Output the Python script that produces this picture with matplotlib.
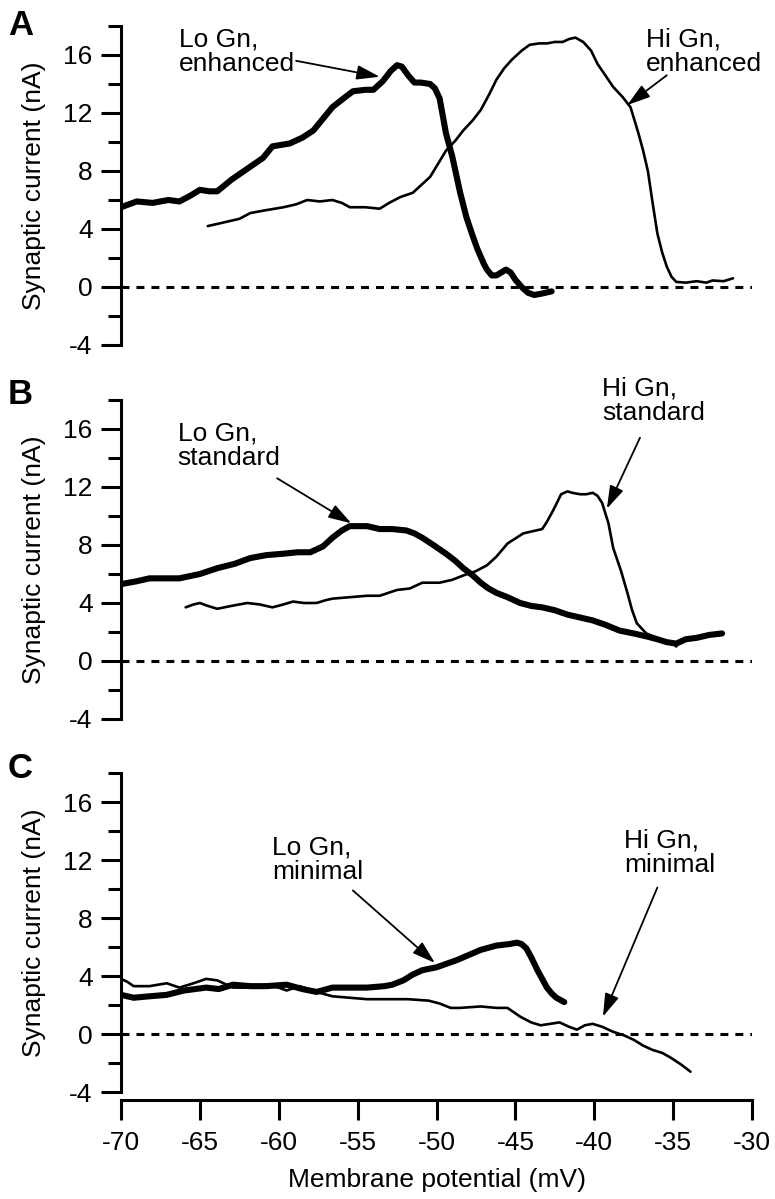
import matplotlib
matplotlib.use("Agg")
import matplotlib.pyplot as plt
from matplotlib.ticker import MultipleLocator

plt.rcParams['font.family'] = ['Liberation Sans', 'DejaVu Sans']

# ---------------- data (membrane potential mV, synaptic current nA) -------------
# Panel A
a_lo_x = [-70.0, -69.0, -68.0, -67.0, -66.3, -65.6, -65.0, -64.4, -63.9, -63.0, -61.8,
          -61.0, -60.4, -59.3, -58.5, -57.8, -57.2, -56.6, -55.9, -55.3, -54.5, -54.0,
          -53.4, -52.9, -52.5, -52.2, -51.8, -51.4, -51.0, -50.4, -50.1, -49.8, -49.4,
          -49.0, -48.5, -48.1, -47.7, -47.4, -47.0, -46.8, -46.5, -46.2, -45.9, -45.6,
          -45.3, -45.0, -44.6, -44.2, -43.8, -43.3, -42.7]
a_lo_y = [5.5, 5.9, 5.8, 6.0, 5.9, 6.3, 6.7, 6.6, 6.6, 7.4, 8.3,
          8.9, 9.7, 9.9, 10.3, 10.8, 11.6, 12.4, 13.0, 13.5, 13.6, 13.6,
          14.2, 14.9, 15.3, 15.2, 14.6, 14.1, 14.1, 14.0, 13.7, 13.0, 10.6,
          9.0, 6.5, 4.8, 3.5, 2.6, 1.6, 1.2, 0.8, 0.8, 1.0, 1.2,
          1.0, 0.5, 0.0, -0.4, -0.55, -0.45, -0.3]
a_hi_x = [-64.5, -63.3, -62.5, -61.8, -60.8, -59.7, -58.9, -58.2, -57.4, -56.6, -56.0,
          -55.5, -54.5, -53.6, -53.0, -52.3, -51.5, -51.0, -50.4, -49.9, -49.4, -48.8,
          -48.3, -47.7, -47.2, -46.7, -46.2, -45.7, -45.2, -44.6, -44.1, -43.5, -43.0,
          -42.5, -42.0, -41.6, -41.2, -40.7, -40.2, -39.8, -39.3, -38.8, -38.2, -37.7,
          -37.2, -36.9, -36.6, -36.3, -36.0, -35.7, -35.4, -35.1, -34.8, -34.2, -33.5,
          -32.9, -32.5, -31.8, -31.2]
a_hi_y = [4.2, 4.5, 4.7, 5.1, 5.3, 5.5, 5.7, 6.0, 5.9, 6.0, 5.8,
          5.5, 5.5, 5.4, 5.8, 6.2, 6.5, 7.0, 7.6, 8.5, 9.4, 10.1,
          10.8, 11.5, 12.2, 13.2, 14.3, 15.1, 15.7, 16.3, 16.7, 16.8, 16.8,
          16.9, 16.9, 17.1, 17.2, 16.9, 16.3, 15.4, 14.6, 13.8, 13.1, 12.4,
          10.6, 9.4, 8.0, 5.8, 3.7, 2.4, 1.4, 0.7, 0.35, 0.3, 0.4,
          0.3, 0.45, 0.4, 0.6]

# Panel B
b_lo_x = [-70.0, -69.0, -68.2, -67.2, -66.3, -65.0, -63.9, -62.8, -61.8, -60.8, -59.7,
          -58.8, -58.0, -57.2, -56.6, -56.0, -55.5, -54.9, -54.4, -53.6, -52.8, -51.9,
          -51.4, -50.9, -50.2, -49.4, -48.8, -48.3, -47.7, -47.2, -46.7, -46.2, -45.5,
          -44.7, -44.0, -43.3, -42.5, -41.7, -40.9, -40.1, -39.3, -38.4, -37.5, -36.7,
          -36.0, -35.4, -34.8, -34.2, -33.5, -32.7, -31.9]
b_lo_y = [5.3, 5.5, 5.7, 5.7, 5.7, 6.0, 6.4, 6.7, 7.1, 7.3, 7.4,
          7.5, 7.5, 7.9, 8.5, 9.0, 9.3, 9.3, 9.3, 9.1, 9.1, 9.0,
          8.8, 8.5, 8.0, 7.4, 6.9, 6.4, 5.9, 5.4, 5.0, 4.7, 4.4,
          4.0, 3.8, 3.7, 3.5, 3.2, 3.0, 2.8, 2.5, 2.1, 1.9, 1.7,
          1.5, 1.3, 1.2, 1.5, 1.6, 1.8, 1.9]
b_hi_x = [-65.9, -65.4, -65.0, -64.5, -63.9, -63.0, -62.0, -61.2, -60.4, -59.7, -59.1,
          -58.4, -57.6, -57.0, -56.6, -55.5, -54.4, -53.6, -52.5, -51.7, -50.9, -49.8,
          -49.0, -48.3, -47.5, -46.8, -46.2, -45.5, -44.5, -43.3, -43.0, -42.6, -42.1,
          -41.7, -41.4, -40.9, -40.5, -40.1, -39.8, -39.5, -39.1, -38.8, -38.3, -37.9,
          -37.6, -37.3, -36.7, -35.8, -35.0, -34.8]
b_hi_y = [3.7, 3.9, 4.0, 3.8, 3.6, 3.8, 4.0, 3.9, 3.7, 3.9, 4.1,
          4.0, 4.0, 4.2, 4.3, 4.4, 4.5, 4.5, 4.9, 5.0, 5.4, 5.4,
          5.6, 5.9, 6.2, 6.6, 7.2, 8.1, 8.8, 9.1, 9.6, 10.4, 11.5,
          11.7, 11.6, 11.5, 11.5, 11.6, 11.4, 10.9, 9.5, 7.8, 6.2, 4.7,
          3.5, 2.6, 1.9, 1.5, 1.2, 1.0]

# Panel C
c_lo_x = [-70.0, -69.2, -68.2, -67.1, -66.0, -64.6, -63.8, -62.9, -61.8, -60.8, -59.5,
          -58.5, -57.6, -56.6, -55.5, -54.4, -53.3, -52.8, -52.1, -51.5, -50.9, -50.0,
          -48.7, -47.2, -46.2, -45.4, -44.9, -44.6, -44.3, -44.0, -43.6, -43.3, -43.0,
          -42.7, -42.4, -41.9]
c_lo_y = [2.7, 2.5, 2.6, 2.7, 3.0, 3.2, 3.1, 3.4, 3.3, 3.3, 3.4,
          3.1, 2.9, 3.2, 3.2, 3.2, 3.3, 3.4, 3.7, 4.1, 4.4, 4.6,
          5.1, 5.8, 6.1, 6.2, 6.3, 6.2, 5.9, 5.3, 4.4, 3.8, 3.2,
          2.8, 2.5, 2.2]
c_hi_x = [-70.0, -69.6, -69.2, -68.2, -67.1, -66.3, -65.4, -64.6, -63.9, -62.9, -61.8,
          -60.8, -60.0, -59.5, -58.7, -57.6, -56.6, -55.5, -54.4, -53.0, -51.8, -50.5,
          -49.8, -49.1, -48.5, -47.2, -46.2, -45.5, -44.7, -44.0, -43.4, -42.8, -42.2,
          -41.6, -41.1, -40.6, -40.1, -39.5, -38.8, -38.1, -37.5, -36.9, -36.3, -35.7,
          -35.2, -34.5, -33.9]
c_hi_y = [3.8, 3.6, 3.3, 3.3, 3.5, 3.2, 3.5, 3.8, 3.7, 3.2, 3.2,
          3.4, 3.2, 3.0, 3.3, 2.9, 2.6, 2.5, 2.4, 2.4, 2.4, 2.3,
          2.1, 1.8, 1.8, 1.9, 1.8, 1.8, 1.2, 0.8, 0.6, 0.7, 0.8,
          0.5, 0.3, 0.6, 0.7, 0.5, 0.15, -0.1, -0.4, -0.8, -1.1, -1.3,
          -1.6, -2.1, -2.6]

y_ticks = [-4, 0, 4, 8, 12, 16]
x_ticks = [-70, -65, -60, -55, -50, -45, -40, -35, -30]
panel_letters = ["A", "B", "C"]
lo_labels = ["Lo Gn,\nenhanced", "Lo Gn,\nstandard", "Lo Gn,\nminimal"]
hi_labels = ["Hi Gn,\nenhanced", "Hi Gn,\nstandard", "Hi Gn,\nminimal"]

series = [(a_lo_x, a_lo_y, a_hi_x, a_hi_y),
          (b_lo_x, b_lo_y, b_hi_x, b_hi_y),
          (c_lo_x, c_lo_y, c_hi_x, c_hi_y)]

# annotation layout (text top-left, arrow tail, arrow tip) in data coords
lo_ann = [((-66.3, 17.9), (-58.9, 15.6), (-53.6, 14.5)),
          ((-66.4, 16.5), (-60.1, 12.6), (-55.4, 9.5)),
          ((-60.4, 13.7), (-55.3, 9.9), (-50.1, 4.9))]
hi_ann = [((-36.7, 17.9), (-35.4, 14.6), (-37.9, 12.55)),
          ((-39.5, 19.6), (-37.1, 15.4), (-39.2, 10.5)),
          ((-38.1, 14.2), (-36.0, 10.1), (-39.45, 1.2))]

# ---------------- figure -------------------------------------------------------
W, H = 775, 1199
fig = plt.figure(figsize=(W / 100, H / 100), dpi=100)
left_px, right_px = 121, 752
zero_px = [287, 661, 1034]
unit_px = 14.5
letter_base = [35, 404, 778]

FS_TICK = 19
FS_ANN = 19
FS_LAB = 19
px2pt = 72 / 100

for i in range(3):
    bottom_px = zero_px[i] + 4 * unit_px
    top_px = zero_px[i] - 18 * unit_px
    ax = fig.add_axes([left_px / W, 1 - bottom_px / H,
                       (right_px - left_px) / W, (bottom_px - top_px) / H])
    ax.set_xlim(-70, -30)
    ax.set_ylim(-4, 18)
    lo_x, lo_y, hi_x, hi_y = series[i]

    ax.axhline(0, color='black', lw=2.2, dashes=(2.6, 2.3), dash_capstyle='butt', zorder=1)
    ax.plot(hi_x, hi_y, color='black', lw=1.9, solid_joinstyle='round',
            solid_capstyle='round', zorder=3)
    ax.plot(lo_x, lo_y, color='black', lw=4.4, solid_joinstyle='round',
            solid_capstyle='round', zorder=3)

    for spine in ('top', 'right'):
        ax.spines[spine].set_visible(False)
    ax.spines['left'].set_linewidth(2.2)
    ax.set_yticks(y_ticks)
    ax.set_yticklabels([str(t) for t in y_ticks])
    ax.yaxis.set_minor_locator(MultipleLocator(2))
    ax.tick_params(axis='y', which='major', length=20 * px2pt, width=2.2,
                   labelsize=FS_TICK, pad=6, direction='out')
    ax.tick_params(axis='y', which='minor', length=13 * px2pt, width=2.2, direction='out')
    ax.set_ylabel("Synaptic current (nA)", fontsize=FS_LAB)
    ax.yaxis.set_label_coords((46 - left_px) / (right_px - left_px), 0.5)

    if i < 2:
        ax.spines['bottom'].set_visible(False)
        ax.set_xticks([])
    else:
        ax.spines['bottom'].set_position(('outward', 8 * px2pt))
        ax.spines['bottom'].set_linewidth(2.2)
        ax.set_xticks(x_ticks)
        ax.set_xticklabels([str(t) for t in x_ticks])
        ax.tick_params(axis='x', which='major', length=20 * px2pt, width=2.2,
                       labelsize=FS_TICK, pad=8, direction='out')
        ax.set_xlabel("Membrane potential (mV)", fontsize=FS_LAB, labelpad=9)

    arrow_kw = dict(arrowstyle='-|>,head_length=0.7,head_width=0.22', lw=1.3,
                    color='black', shrinkA=0, shrinkB=0, mutation_scale=20)
    for txt, (tpos, tail, tip) in ((lo_labels[i], lo_ann[i]), (hi_labels[i], hi_ann[i])):
        ax.text(tpos[0], tpos[1], txt, fontsize=FS_ANN, ha='left', va='top',
                linespacing=1.03, clip_on=False)
        ax.annotate('', xy=tip, xytext=tail, arrowprops=arrow_kw, annotation_clip=False)

    fig.text(8 / W, 1 - letter_base[i] / H, panel_letters[i], fontsize=25,
             fontweight='bold', ha='left', va='baseline')

fig.savefig("out.png", dpi=100)
